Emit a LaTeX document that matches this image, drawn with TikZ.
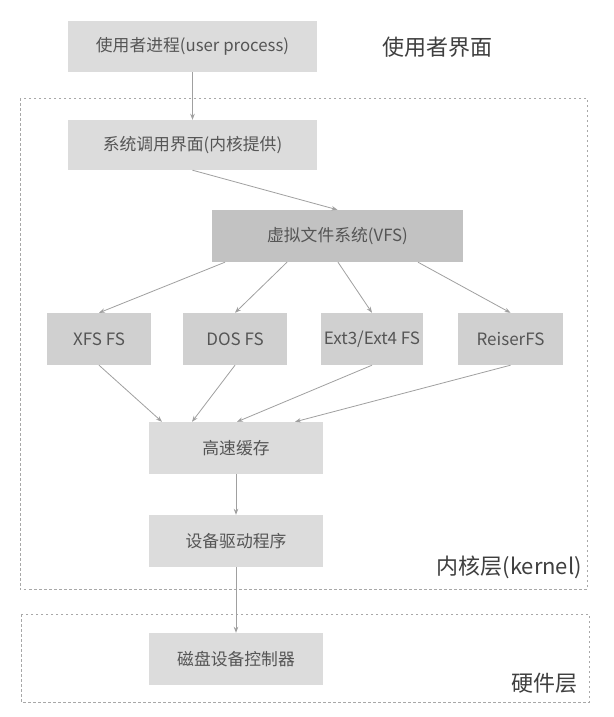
\documentclass[tikz,border=0pt]{standalone}
\usepackage{fontspec}
\setmainfont{Noto Sans CJK SC}
\usetikzlibrary{arrows.meta}
\definecolor{boxlight}{HTML}{DCDCDC}
\definecolor{boxmid}{HTML}{D0D0D0}
\definecolor{boxdark}{HTML}{C2C2C2}
\definecolor{txtgray}{HTML}{555555}
\definecolor{lblgray}{HTML}{3F3F3F}
\definecolor{linegray}{HTML}{A0A0A0}
\definecolor{dashgray}{HTML}{A8A8A8}
\tikzset{
  boxnode/.style={rectangle, draw=none, fill=boxlight, text=txtgray, inner sep=0pt, font=\fontsize{16.8}{19}\selectfont},
  fsnode/.style={boxnode, fill=boxmid, font=\fontsize{17}{20}\selectfont, minimum height=52pt},
  conn/.style={draw=linegray, line width=0.8pt, -{Stealth[length=6pt,width=4.5pt]}},
  layer/.style={draw=dashgray, line width=0.8pt, dash pattern=on 2.5pt off 2.5pt},
  lbl/.style={text=lblgray, inner sep=0pt, font=\fontsize{22}{25}\selectfont}
}
\begin{document}
\begin{tikzpicture}[x=1pt,y=-1pt]
\useasboundingbox (0,0) rectangle (613,717);
\fill[white] (0,0) rectangle (613,717);
% layer frames
\draw[layer] (20,98) rectangle (587,589);
\draw[layer] (21,614) rectangle (589,702);
% boxes
\node[boxnode, minimum width=249pt, minimum height=51pt] (user) at (192.5,46.5) {使用者进程(user process)};
\node[boxnode, minimum width=249pt, minimum height=50pt] (sys) at (192.5,145) {系统调用界面(内核提供)};
\node[boxnode, fill=boxdark, minimum width=251pt, minimum height=52pt] (vfs) at (337.5,236) {虚拟文件系统(VFS)};
\node[fsnode, minimum width=104pt] (xfs) at (99,339) {XFS FS};
\node[fsnode, minimum width=104pt] (dos) at (235,339) {DOS FS};
\node[fsnode, minimum width=102pt] (ext) at (372,339) {Ext3/Ext4 FS};
\node[fsnode, minimum width=105pt] (reiser) at (510.5,339) {ReiserFS};
\node[boxnode, minimum width=174pt, minimum height=52pt] (cache) at (236,448) {高速缓存};
\node[boxnode, minimum width=174pt, minimum height=52pt] (drv) at (236,541) {设备驱动程序};
\node[boxnode, minimum width=174pt, minimum height=52pt] (disk) at (236,659) {磁盘设备控制器};
% labels
\node[lbl, anchor=west] (ulbl) at (382,47) {使用者界面};
\node[lbl, anchor=east] (klbl) at (582,567) {内核层(kernel)};
\node[lbl, anchor=east] (hlbl) at (578,683) {硬件层};
% connectors
\draw[conn] (user.south) -- (sys.north);
\draw[conn] (sys.south) -- (vfs.north);
\draw[conn] ([xshift=-112.5pt]vfs.south) -- (xfs.north);
\draw[conn] ([xshift=-50.5pt]vfs.south) -- (dos.north);
\draw[conn] ([xshift=0.5pt]vfs.south) -- (ext.north);
\draw[conn] ([xshift=80.5pt]vfs.south) -- (reiser.north);
\draw[conn] (xfs.south) -- ([xshift=-74pt]cache.north);
\draw[conn] (dos.south) -- ([xshift=-44pt]cache.north);
\draw[conn] (ext.south) -- ([xshift=1pt]cache.north);
\draw[conn] (reiser.south) -- ([xshift=59pt]cache.north);
\draw[conn] (cache.south) -- (drv.north);
\draw[conn] (drv.south) -- (disk.north);
\end{tikzpicture}
\end{document}
